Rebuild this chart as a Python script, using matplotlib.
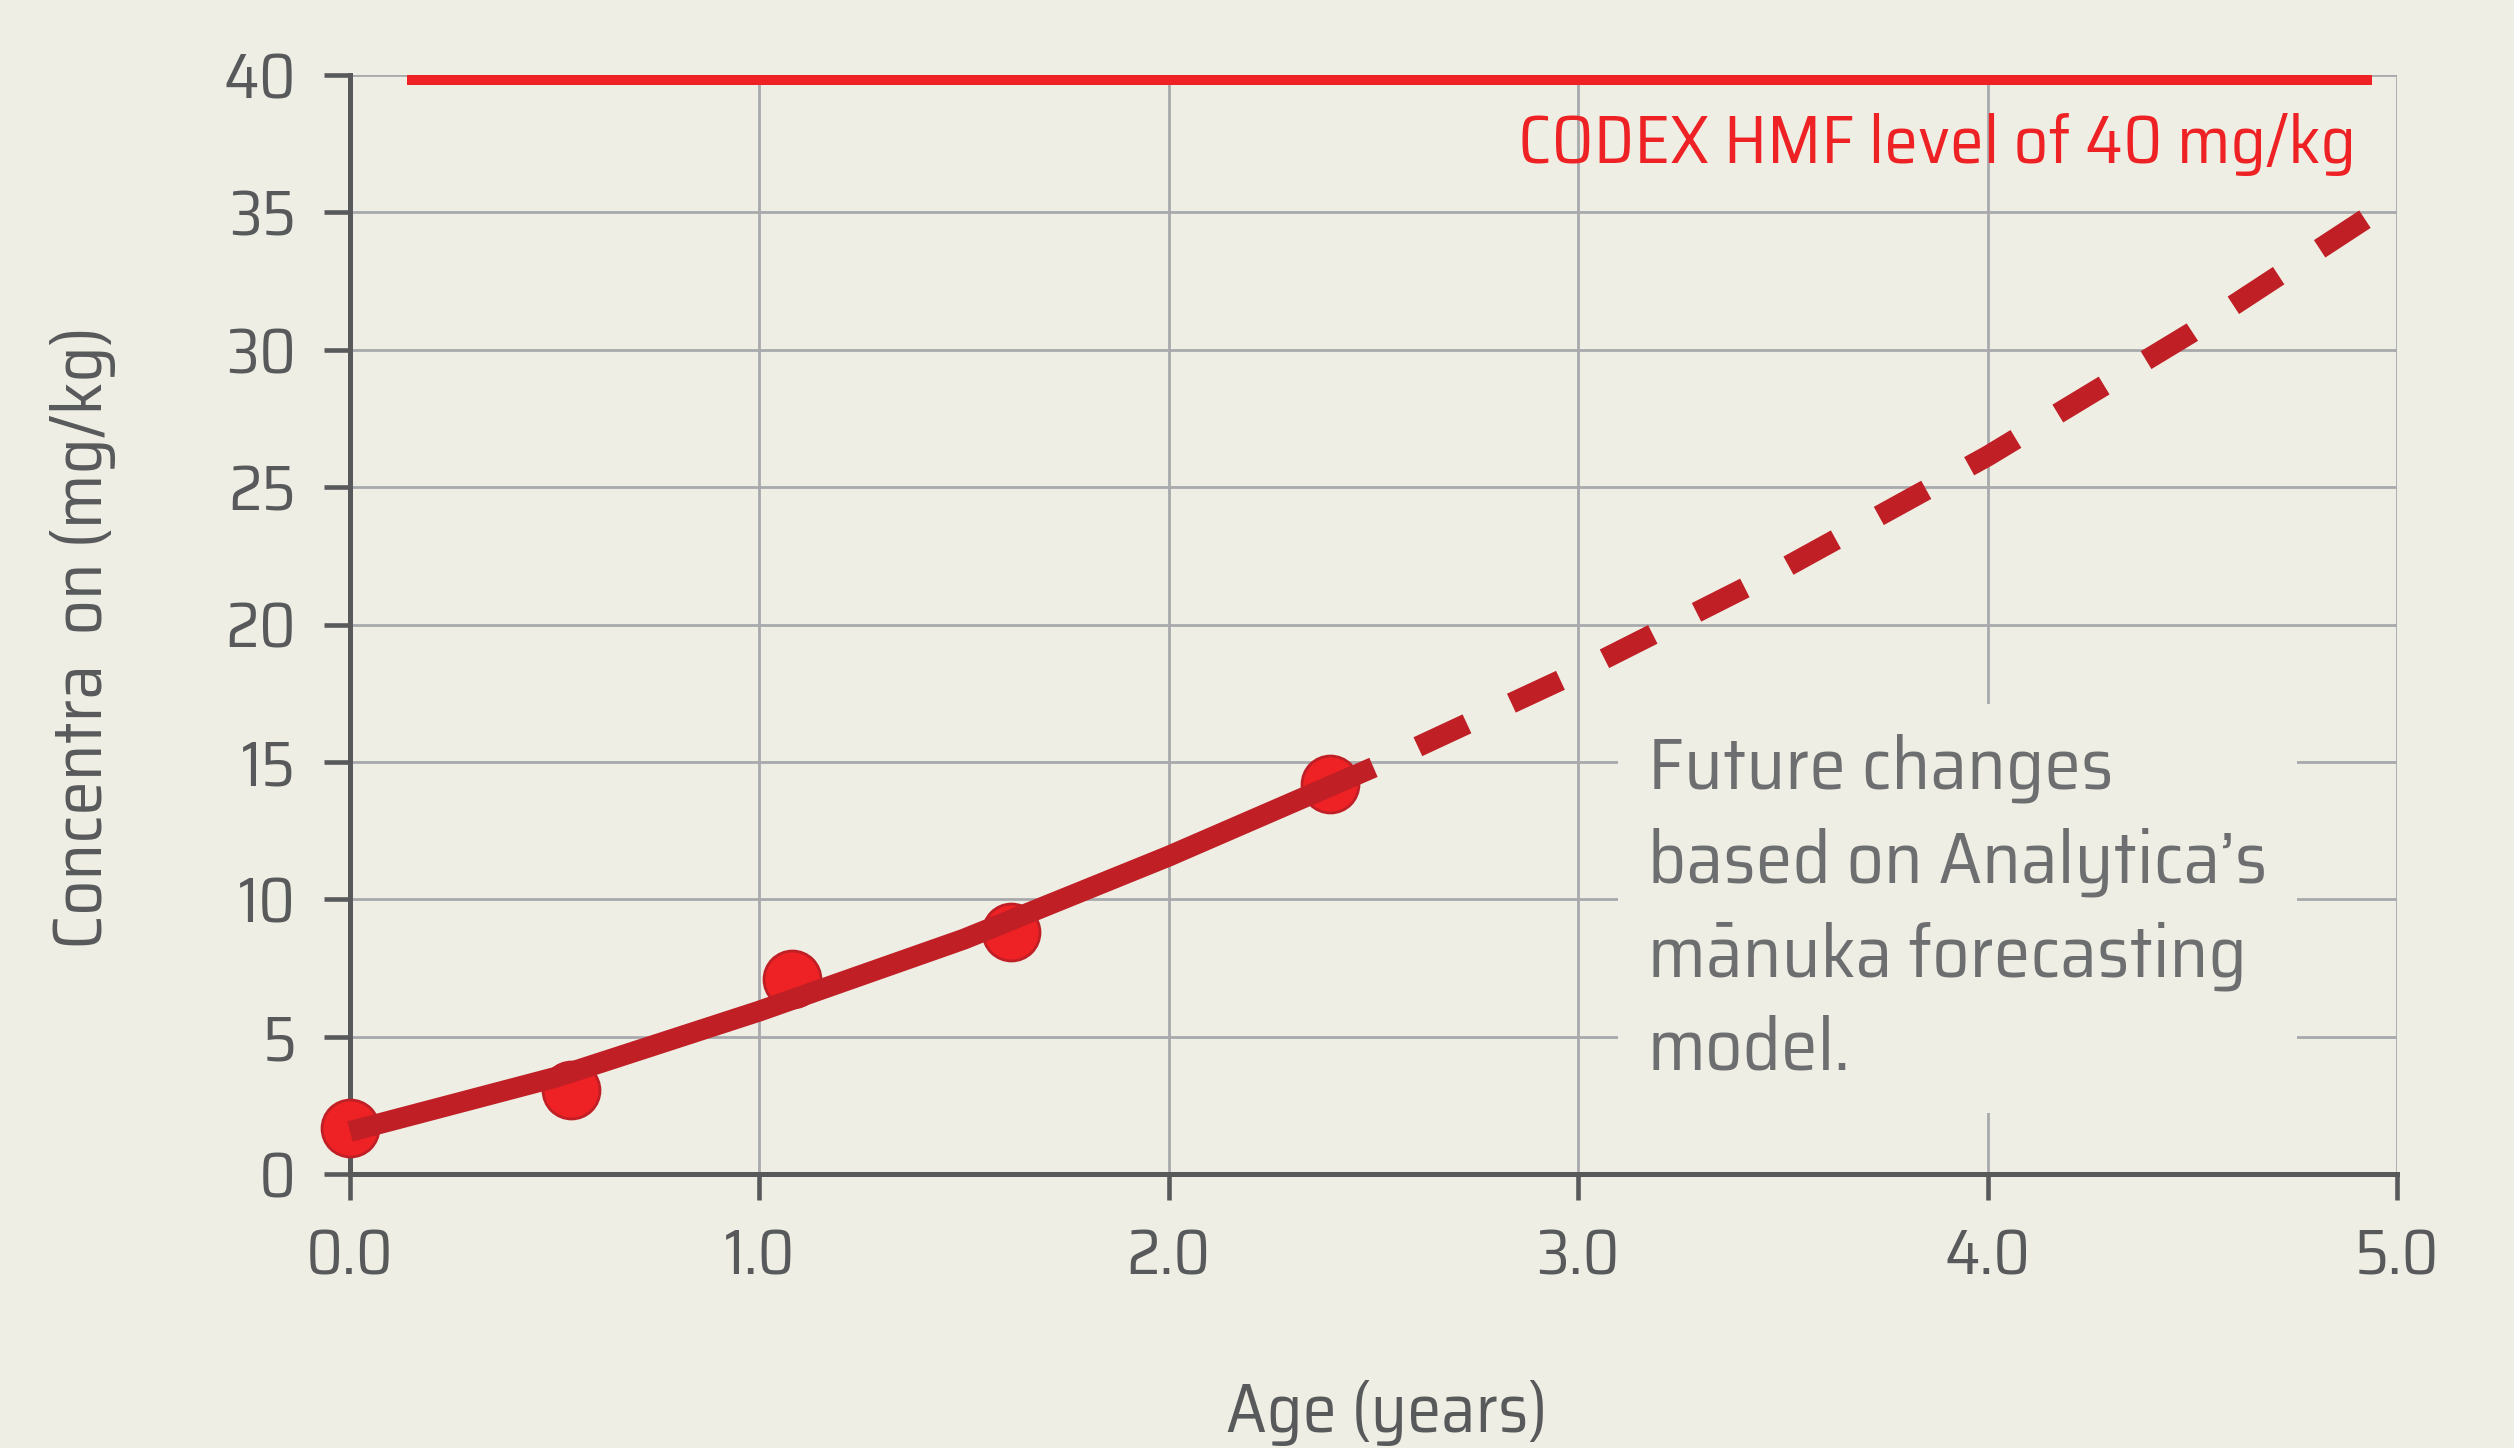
import numpy as np
import matplotlib.pyplot as plt

# observed HMF concentrations (mg/kg) by honey age (years)
age_obs = [0.0, 0.54, 1.08, 1.615, 2.394]
conc_obs = [1.67, 3.06, 7.1, 8.82, 14.18]

# fitted curve through the observations
age_fit = [0.0, 0.5, 1.0, 1.5, 2.0, 2.5]
conc_fit = [1.55, 3.51, 5.93, 8.55, 11.57, 14.8]

# forecast part (dashed)
age_fc = [2.5, 3.0, 3.5, 4.0, 4.5, 4.94]
conc_fc = [14.8, 18.27, 22.03, 26.13, 30.64, 34.93]

codex_level = 40
codex_age = [0.14, 4.94]

xticks = [0, 1, 2, 3, 4, 5]
xticklabels = ["0.0", "1.0", "2.0", "3.0", "4.0", "5.0"]
yticks = [0, 5, 10, 15, 20, 25, 30, 35, 40]

bg = "#efeee4"
grey = "#58595b"
gridc = "#a7a9ac"
red = "#ee2124"
darkred = "#c01f26"

plt.rcParams['font.family'] = ['Saira SemiCondensed', 'DejaVu Sans']

fig = plt.figure(figsize=(25.14, 14.48), dpi=100, facecolor=bg)
ax = fig.add_axes([350/2514, 1-1174/1448, (2397-350)/2514, (1174-75)/1448])
ax.set_facecolor(bg)

ax.set_xlim(0, 5)
ax.set_ylim(0, 40)
ax.set_xticks(xticks)
ax.set_xticklabels(xticklabels)
ax.set_yticks(yticks)
ax.grid(color=gridc, lw=2, zorder=0)
ax.set_axisbelow(True)

for s in ["top", "right"]:
    ax.spines[s].set_visible(False)
for s in ["left", "bottom"]:
    ax.spines[s].set_color(grey)
    ax.spines[s].set_linewidth(3.6)
    ax.spines[s].set_zorder(1.5)
ax.tick_params(length=18.7, width=3.3, color=grey, labelsize=46,
               labelcolor=grey, pad=20)

# CODEX limit
ax.plot(codex_age, [codex_level - 0.17]*2, color=red, lw=7.2,
        solid_capstyle="butt", zorder=2, clip_on=False)
ax.text(4.90, 36.8, "CODEX HMF level of 40 mg/kg", color=red, fontsize=49,
        ha="right", va="baseline")

# observations
ax.plot(age_obs, conc_obs, "o", ms=41, mfc=red, mec=darkred, mew=2,
        zorder=3, clip_on=False)
# fit and forecast
ax.plot(age_fit, conc_fit, color=darkred, lw=15, solid_capstyle="butt",
        zorder=4, clip_on=False)
ax.plot(age_fc, conc_fc, color=darkred, lw=15, linestyle=(2.6, (2.6, 2.35)),
        dash_capstyle="butt", zorder=4, clip_on=False)

ax.text(3.17, 3.79, "Future changes\nbased on Analytica\u2019s\nm\u0101nuka forecasting\nmodel.",
        color="#6d6e70", fontsize=53,
        ha="left", va="baseline", linespacing=1.44, zorder=2.5,
        bbox=dict(boxstyle="square,pad=0.4", fc=bg, ec="none"))

fig.text(102/2514, 1-637/1448, "Concentra  on (mg/kg)", rotation=90,
         rotation_mode="anchor", ha="center", va="baseline", fontsize=50, color=grey)
fig.text(1387/2514, 1-1431.7/1448, "Age (years)", ha="center", va="baseline",
         fontsize=49.5, color=grey)

fig.savefig("out.png", dpi=100, facecolor=bg)
